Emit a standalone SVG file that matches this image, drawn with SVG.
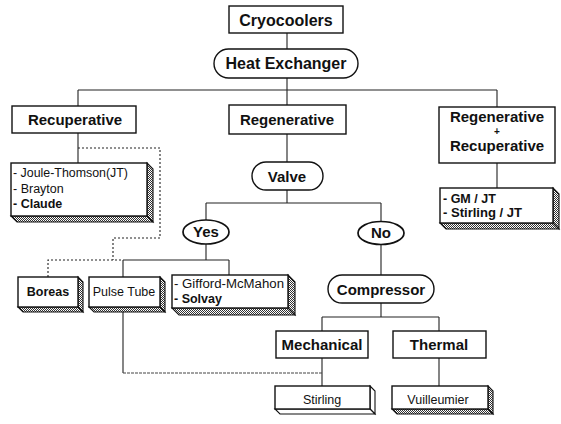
<svg xmlns="http://www.w3.org/2000/svg" width="561" height="424" viewBox="0 0 561 424">
<defs>
<pattern id="hatch" width="2" height="2" patternUnits="userSpaceOnUse">
<rect width="2" height="2" fill="#ffffff"/>
<rect x="0" y="0" width="1" height="1" fill="#333"/>
<rect x="1" y="1" width="1" height="1" fill="#333"/>
</pattern>
<style>
.box{fill:#fff;stroke:#111;stroke-width:1.4}
.ell{fill:#fff;stroke:#111;stroke-width:1.7}
.face{fill:url(#hatch);stroke:#111;stroke-width:1.1}
.plain{fill:#fff;stroke:#111;stroke-width:1.1}
.t{font-family:"Liberation Sans",Arial,sans-serif;font-weight:bold;font-size:15px;fill:#111;text-anchor:middle}
.big{font-size:16px}
.s{font-family:"Liberation Sans",Arial,sans-serif;font-size:12.5px;fill:#111}
.sb{font-weight:bold}
.c{text-anchor:middle}
.line{fill:none;stroke:#222;stroke-width:1.1}
.dot{fill:none;stroke:#222;stroke-width:1.1;stroke-dasharray:2 2}
.faint{fill:none;stroke:#444;stroke-width:1.1;stroke-dasharray:3 1}
</style>
</defs>
<rect width="561" height="424" fill="#fff"/>

<g id="connectors">
<path class="line" d="M287 33V49M287 78V106M78 90H497M78 90V106M497 90V107M78 133V163M497 163V188"/>
<path class="line" d="M287 134V162M287 190V203M206 203H381M206 203V220M381 203V222"/>
<path class="line" d="M206 244V260M123 260H229M123 260V277M229 260V275M381 244V275"/>
<path class="line" d="M381 303V317M322 317H439M322 317V331M439 317V331M322 358V386M439 358V386"/>
<path class="line" d="M123 312V373"/>
<path class="faint" d="M123 373H322"/>
<path class="dot" d="M78 148H160V238H113V260M48 277V260H123"/>
</g>

<g id="cryocoolers">
<rect class="box" x="229" y="6" width="114" height="27"/>
<text class="t big" x="286" y="26">Cryocoolers</text>
</g>

<g id="heat-exchanger">
<rect class="box" x="214" y="49" width="144" height="29" rx="14.5"/>
<text class="t big" x="286" y="69">Heat Exchanger</text>
</g>

<g id="recuperative">
<rect class="box" x="12" y="106" width="124" height="27"/>
<text class="t" x="75" y="125">Recuperative</text>
</g>

<g id="regenerative">
<rect class="box" x="229" y="105" width="117" height="29"/>
<text class="t" x="287" y="125">Regenerative</text>
</g>

<g id="regen-recup">
<rect class="box" x="439" y="107" width="116" height="56"/>
<text class="t" x="497" y="122">Regenerative</text>
<text class="t" x="497" y="134.5" style="font-size:10px">+</text>
<text class="t" x="497" y="151">Recuperative</text>
</g>

<g id="recup-list">
<polygon class="face" points="147,163 153,169 153,222 147,216"/>
<polygon class="face" points="11,216 147,216 153,222 17,222"/>
<rect class="box" x="11" y="163" width="136" height="53"/>
<text class="s" x="13" y="177" textLength="115" lengthAdjust="spacingAndGlyphs">- Joule-Thomson(JT)</text>
<text class="s" x="13" y="193">- Brayton</text>
<text class="s sb" x="13" y="208">- Claude</text>
</g>

<g id="regen-recup-list">
<polygon class="face" points="553,188 559,194 559,229 553,223"/>
<polygon class="face" points="440,223 553,223 559,229 446,229"/>
<rect class="box" x="440" y="188" width="113" height="35"/>
<text class="s sb" x="443" y="203">- GM / JT</text>
<text class="s sb" x="443" y="217" textLength="79" lengthAdjust="spacingAndGlyphs">- Stirling / JT</text>
</g>

<g id="valve">
<rect class="box" x="252" y="162" width="71" height="28" rx="14"/>
<text class="t" x="287" y="182">Valve</text>
</g>

<g id="yes">
<ellipse class="ell" cx="206" cy="232" rx="23" ry="12"/>
<text class="t" x="206" y="237">Yes</text>
</g>

<g id="no">
<ellipse class="ell" cx="381" cy="233" rx="23" ry="11.5"/>
<text class="t" x="381" y="238">No</text>
</g>

<g id="boreas">
<polygon class="face" points="78,277 83,282 83,312 78,307"/>
<polygon class="face" points="18,307 78,307 83,312 23,312"/>
<rect class="box" x="18" y="277" width="60" height="30"/>
<text class="s sb c" x="48" y="296">Boreas</text>
</g>

<g id="pulse-tube">
<polygon class="face" points="160,277 165,282 165,312 160,307"/>
<polygon class="face" points="89,307 160,307 165,312 94,312"/>
<rect class="box" x="89" y="277" width="71" height="30"/>
<text class="s c" x="124" y="296">Pulse Tube</text>
</g>

<g id="gifford">
<polygon class="face" points="288,275 295,282 295,315 288,308"/>
<polygon class="face" points="172,308 288,308 295,315 179,315"/>
<rect class="box" x="172" y="275" width="116" height="33"/>
<text class="s" x="174" y="288" textLength="110" lengthAdjust="spacingAndGlyphs">- Gifford-McMahon</text>
<text class="s sb" x="174" y="303">- Solvay</text>
</g>

<g id="compressor">
<rect class="box" x="328" y="275" width="106" height="28" rx="14"/>
<text class="t" x="381" y="295">Compressor</text>
</g>

<g id="mechanical">
<rect class="box" x="276" y="331" width="92" height="27"/>
<text class="t" x="322" y="350">Mechanical</text>
</g>

<g id="thermal">
<rect class="box" x="393" y="331" width="93" height="27"/>
<text class="t" x="439" y="350">Thermal</text>
</g>

<g id="stirling">
<polygon class="plain" points="370,386 375,391 375,414 370,409"/>
<polygon class="plain" points="275,409 370,409 375,414 280,414"/>
<rect class="box" x="275" y="386" width="95" height="23"/>
<text class="s c" x="322" y="404">Stirling</text>
</g>

<g id="vuilleumier">
<polygon class="face" points="488,386 493,391 493,414 488,409"/>
<polygon class="face" points="392,409 488,409 493,414 397,414"/>
<rect class="box" x="392" y="386" width="96" height="23"/>
<text class="s c" x="438" y="404">Vuilleumier</text>
</g>
</svg>
